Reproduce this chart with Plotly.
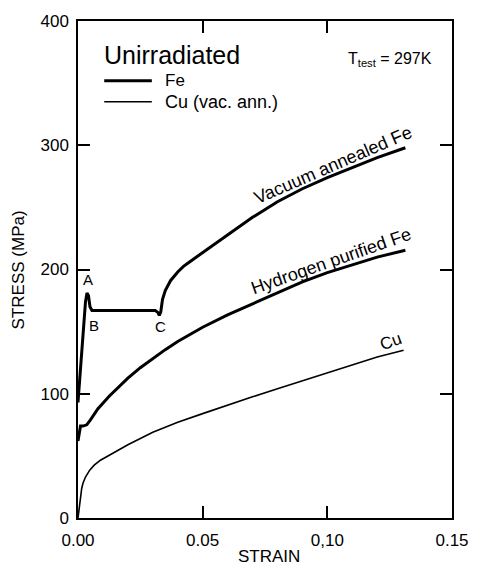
import plotly.graph_objects as go

# Vacuum annealed Fe
fe_vac_strain = [0, 0.0010, 0.0020, 0.0030, 0.0036, 0.0042, 0.0048, 0.0056, 0.0080, 0.015, 0.025,
                 0.0310, 0.0320, 0.0326, 0.0332, 0.0339, 0.0350, 0.0371, 0.040, 0.0423, 0.045,
                 0.050, 0.055, 0.060, 0.070, 0.080, 0.090, 0.100, 0.110, 0.120, 0.1313]
fe_vac_stress = [93, 120, 148, 174, 181, 179, 170, 167, 167, 167, 167,
                 167, 165.5, 163, 166, 176, 183, 191, 198, 202.5, 206.5,
                 213.5, 221, 228, 242, 254.5, 265, 274, 282, 290, 298]

# Hydrogen purified Fe
fe_h_strain = [0, 0.0005, 0.0010, 0.0020, 0.0035, 0.0050, 0.0080, 0.0125, 0.016, 0.020, 0.025,
               0.030, 0.035, 0.040, 0.045, 0.050, 0.060, 0.070, 0.080, 0.090, 0.100,
               0.110, 0.120, 0.1313]
fe_h_stress = [62, 70, 74, 74, 75, 79, 88, 98, 105, 112.5, 121,
               128.5, 135.5, 142, 148, 153.5, 163.5, 172.5, 181, 190, 197.5,
               204, 210, 215.5]

# Cu (vac. ann.)
cu_strain = [0, 0.0005, 0.0010, 0.0015, 0.0020, 0.0030, 0.0047, 0.0065, 0.0090, 0.0125, 0.020,
             0.030, 0.040, 0.050, 0.060, 0.070, 0.080, 0.090, 0.100, 0.110, 0.120, 0.1306]
cu_stress = [0, 8, 17, 24, 28, 33, 38.5, 42.5, 46.5, 50.5, 59,
             69, 77, 84, 91, 97.5, 104, 110.5, 117, 123, 129.5, 135]

x_tickvals = [0, 0.05, 0.10, 0.15]
x_ticktext = ["0.00", "0.05", "0,10", "0.15"]
y_tickvals = [0, 100, 200, 300, 400]
y_ticktext = ["0", "100", "200", "300", "400"]

FONT = "Liberation Sans, Arial, Helvetica, sans-serif"

fig = go.Figure()
fig.add_trace(go.Scatter(x=fe_vac_strain, y=fe_vac_stress, mode="lines",
                         line=dict(color="black", width=3), showlegend=False))
fig.add_trace(go.Scatter(x=fe_h_strain, y=fe_h_stress, mode="lines",
                         line=dict(color="black", width=3), showlegend=False))
fig.add_trace(go.Scatter(x=cu_strain, y=cu_stress, mode="lines",
                         line=dict(color="black", width=1.6), showlegend=False))

axis_common = dict(showline=True, linecolor="black", linewidth=1.5, mirror="ticks",
                   ticks="inside", ticklen=12, tickwidth=1.5, tickcolor="black",
                   showgrid=False, zeroline=False,
                   tickfont=dict(family=FONT, size=17, color="black"))

fig.update_xaxes(range=[0, 0.15], tickvals=x_tickvals, ticktext=x_ticktext,
                 ticklabelstandoff=6, **axis_common)
fig.update_yaxes(range=[0, 400], tickvals=y_tickvals, ticktext=y_ticktext,
                 ticklabelstandoff=4, **axis_common)

annots = []
def ann(**kw):
    d = dict(showarrow=False, font=dict(family=FONT, size=17, color="black"))
    d.update(kw)
    annots.append(d)

# axis titles
ann(text="STRESS (MPa)", xref="paper", yref="paper", x=-0.158, y=0.5,
    xanchor="center", yanchor="middle", textangle=-90)
ann(text="STRAIN", xref="paper", yref="paper", x=0.51, y=(518 - 557) / 499,
    xanchor="center", yanchor="middle")

# legend-like block
ann(text="Unirradiated", xref="paper", yref="paper", x=(103 - 78) / 385, y=(518 - 53) / 499,
    xanchor="left", yanchor="middle", font=dict(family=FONT, size=25, color="black"))
ann(text="Fe", xref="paper", yref="paper", x=(166 - 78) / 385, y=(518 - 79) / 499,
    xanchor="left", yanchor="middle")
ann(text="Cu (vac. ann.)", xref="paper", yref="paper", x=(166 - 78) / 385, y=(518 - 100) / 499,
    xanchor="left", yanchor="middle", font=dict(family=FONT, size=18, color="black"))
ann(text="T<sub>test</sub> = 297K", xref="paper", yref="paper", x=(444 - 78) / 385,
    y=(518 - 58) / 499, xanchor="right", yanchor="middle",
    font=dict(family=FONT, size=16, color="black"))

# curve labels
ann(text="Vacuum annealed Fe", xref="x", yref="y", x=0.0994, y=274, textangle=-23.4,
    xanchor="center", yanchor="middle", xshift=7, yshift=13,
    font=dict(family=FONT, size=18, color="black"))
ann(text="Hydrogen purified Fe", xref="x", yref="y", x=0.0988, y=197, textangle=-19.3,
    xanchor="center", yanchor="middle", xshift=7, yshift=12.5,
    font=dict(family=FONT, size=18, color="black"))
ann(text="Cu", xref="x", yref="y", x=0.1255, y=142, textangle=-20,
    xanchor="center", yanchor="middle")
ann(text="A", xref="x", yref="y", x=0.0040, y=192, font=dict(family=FONT, size=15, color="black"))
ann(text="B", xref="x", yref="y", x=0.0066, y=155, font=dict(family=FONT, size=15, color="black"))
ann(text="C", xref="x", yref="y", x=0.0332, y=154, font=dict(family=FONT, size=15, color="black"))

fig.update_layout(annotations=annots)

# legend sample lines
fig.add_shape(type="line", xref="paper", yref="paper",
              x0=(105 - 78) / 385, x1=(154 - 78) / 385,
              y0=(518 - 79) / 499, y1=(518 - 79) / 499,
              line=dict(color="black", width=3))
fig.add_shape(type="line", xref="paper", yref="paper",
              x0=(105 - 78) / 385, x1=(154 - 78) / 385,
              y0=(518 - 100) / 499, y1=(518 - 100) / 499,
              line=dict(color="black", width=1.6))

fig.update_layout(width=481, height=568,
                  margin=dict(l=78, r=18, t=19, b=50),
                  paper_bgcolor="white", plot_bgcolor="white",
                  font=dict(family=FONT, color="black"))

fig.write_html("out.html")
